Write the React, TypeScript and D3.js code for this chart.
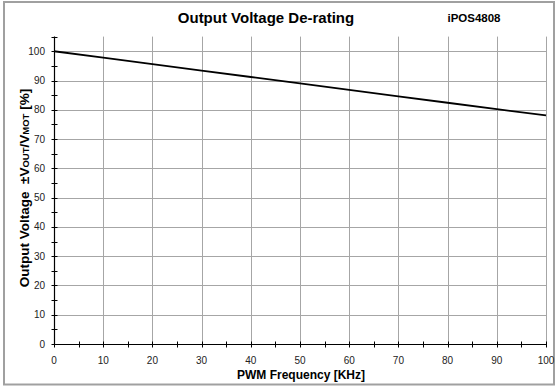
import React from "react";
import * as d3 from "d3";

const freqs = [0, 10, 20, 30, 40, 50, 60, 70, 80, 90, 100];
const voltage = [100, 97.8, 95.6, 93.4, 91.2, 89.0, 86.8, 84.6, 82.4, 80.2, 78.1];
const xTicks = [0, 10, 20, 30, 40, 50, 60, 70, 80, 90, 100];
const yTicks = [0, 10, 20, 30, 40, 50, 60, 70, 80, 90, 100];

const width = 558, height = 391;
const x = d3.scaleLinear().domain([0, 100]).range([54, 546]);
const y = d3.scaleLinear().domain([0, 105]).range([344, 36.6]);
const px = (v: number) => Math.round(v) + 0.5;

const App = () => {
  const minorX = d3.range(0, 101, 5);
  const minorY = d3.range(0, 106, 5);
  const line = d3.line<number>()
    .x((_, i) => x(freqs[i]))
    .y(d => y(d));
  const x0 = px(x(0));
  const y0 = px(y(0));

  return (
    <svg
      width={width}
      height={height}
      style={{ position: "fixed", left: 0, top: 0, fontFamily: "Arial, 'Liberation Sans', sans-serif" }}
    >
      {/* outer frame */}
      <rect x={0} y={0} width={width} height={height} fill="#fff" />
      <rect x={4} y={2} width={550} height={382.5} fill="none" stroke="#a0a0a0" strokeWidth={2} />

      {/* grid */}
      {yTicks.slice(1).map(d => (
        <line key={"h" + d} x1={x(0)} x2={x(100)} y1={px(y(d))} y2={px(y(d))} stroke="#a6a6a6" />
      ))}
      {xTicks.slice(1).map(d => (
        <line key={"v" + d} x1={px(x(d))} x2={px(x(d))} y1={y(0)} y2={y(105)} stroke="#a6a6a6" />
      ))}

      {/* axes */}
      <line x1={x(0)} x2={x(100)} y1={y0} y2={y0} stroke="#000" strokeWidth={1.2} />
      <line x1={x0} x2={x0} y1={y(0)} y2={y(105)} stroke="#000" strokeWidth={1.2} />
      {minorX.map(d => (
        <line key={"tx" + d} x1={px(x(d))} x2={px(x(d))} y1={y0 - 3} y2={y0 + 3} stroke="#000" />
      ))}
      {minorY.map(d => (
        <line key={"ty" + d} x1={x0 - 3} x2={x0 + 3} y1={px(y(d))} y2={px(y(d))} stroke="#000" />
      ))}
      {xTicks.map(d => (
        <text key={"lx" + d} x={x(d)} y={364} textAnchor="middle" fontSize={10} fill="#222">{d}</text>
      ))}
      {yTicks.map(d => (
        <text key={"ly" + d} x={45} y={y(d) + 3.5} textAnchor="end" fontSize={10} fill="#222">{d}</text>
      ))}

      {/* data */}
      <path d={line(voltage) || ""} fill="none" stroke="#000" strokeWidth={1.8} />

      {/* titles */}
      <text x={266} y={23} textAnchor="middle" fontSize={15} fontWeight="bold">Output Voltage De-rating</text>
      <text x={474} y={22} textAnchor="middle" fontSize={11.5} fontWeight="bold">iPOS4808</text>
      <text x={301} y={379} textAnchor="middle" fontSize={12} fontWeight="bold">PWM Frequency [KHz]</text>
      <text transform="translate(29,188) rotate(-90)" textAnchor="middle" fontSize={13.5} fontWeight="bold">
        <tspan>{"Output Voltage \u00A0\u00B1V"}</tspan>
        <tspan fontSize={9.5}>OUT</tspan>
        <tspan>/V</tspan>
        <tspan fontSize={9.5}>MOT</tspan>
        <tspan>{"\u00A0[%]"}</tspan>
      </text>
    </svg>
  );
};

export default App;
